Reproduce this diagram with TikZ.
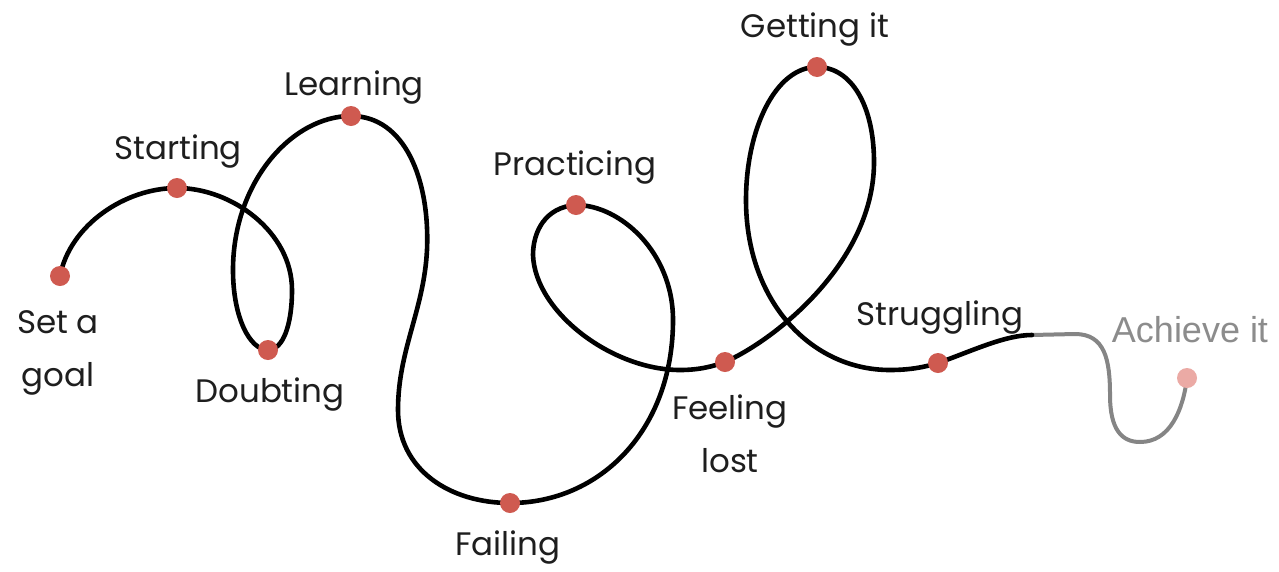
\documentclass[tikz,border=0pt]{standalone}
\usepackage{fontspec}
\setmainfont{Poppins}
\newfontfamily\achfont{Liberation Sans}
\definecolor{dotred}{HTML}{CF5A50}
\definecolor{dotpink}{HTML}{EBAAA5}
\definecolor{txt}{HTML}{1E1E1E}
\definecolor{grayline}{HTML}{858585}
\definecolor{graytxt}{HTML}{8C8C8C}
\begin{document}
\begin{tikzpicture}[x=1pt,y=-1pt,
  dotnode/.style={circle,fill=dotred,minimum size=20pt,inner sep=0pt},
  lbl/.style={text=txt,font=\fontsize{32.5}{53}\selectfont,align=center,inner sep=0pt},
  path line/.style={line width=4.6pt,black,line cap=round},
  tail line/.style={line width=4pt,grayline,line cap=round}]
\useasboundingbox (0,0) rectangle (1279,571);
\fill[white] (0,0) rectangle (1279,571);
% key points
\coordinate (goal) at (60,276);
\coordinate (start) at (177,188);
\coordinate (doubt) at (268,350);
\coordinate (learn) at (351,116);
\coordinate (fail) at (510,503);
\coordinate (pract) at (576,205);
\coordinate (lost) at (725,362);
\coordinate (get) at (817,67);
\coordinate (strug) at (938,363);
\coordinate (blackend) at (1032,335);
\coordinate (ach) at (1187,378);
% grey tail
\draw[tail line] (blackend) -- (1075,334) .. controls (1105,334) and (1110,360) .. (1110,395)
  .. controls (1110,430) and (1122,442) .. (1140,442)
  .. controls (1170,442) and (1183,410) .. (ach);
% main curve
\draw[path line] (goal) .. controls (70,225) and (125,188) .. (start)
  .. controls (232,188) and (292,232) .. (292,290)
  .. controls (292,325) and (283,350) .. (doubt)
  .. controls (250,350) and (233,318) .. (233,270)
  .. controls (233,182) and (292,116) .. (learn)
  .. controls (405,116) and (430,180) .. (427,250)
  .. controls (424,310) and (398,350) .. (398,410)
  .. controls (398,470) and (450,503) .. (fail)
  .. controls (600,503) and (673,430) .. (673,320)
  .. controls (673,252) and (620,205) .. (pract)
  .. controls (545,207) and (533,232) .. (533,255)
  .. controls (535,312) and (612,370) .. (680,370)
  .. controls (700,370) and (714,366) .. (lost)
  .. controls (775,340) and (874,262) .. (874,162)
  .. controls (874,105) and (851,67) .. (get)
  .. controls (775,67) and (746,130) .. (746,200)
  .. controls (746,300) and (810,370) .. (890,370)
  .. controls (910,370) and (925,367) .. (strug)
  .. controls (972,351) and (1005,335) .. (blackend);
% dots
\node[dotnode] (dgoal) at (goal) {};
\node[dotnode] (dstart) at (start) {};
\node[dotnode] (ddoubt) at (doubt) {};
\node[dotnode] (dlearn) at (learn) {};
\node[dotnode] (dfail) at (fail) {};
\node[dotnode] (dpract) at (pract) {};
\node[dotnode] (dlost) at (lost) {};
\node[dotnode] (dget) at (get) {};
\node[dotnode] (dstrug) at (strug) {};
\node[dotnode,fill=dotpink] (dach) at (ach) {};
% labels
\node[lbl] (lgoal) at (58,353) {Set a\\goal};
\node[lbl] (lstart) at (178,152) {Starting};
\node[lbl] (ldoubt) at (270,395) {Doubting};
\node[lbl] (llearn) at (354,88) {Learning};
\node[lbl] (lfail) at (508,548) {Failing};
\node[lbl] (lpract) at (575,168) {Practicing};
\node[lbl] (llost) at (730,434) {Feeling\\lost};
\node[lbl] (lget) at (815,30) {Getting it};
\node[lbl] (lstrug) at (940,318) {Struggling};
\node[lbl,text=graytxt,font=\achfont\fontsize{36}{40}\selectfont] (lach) at (1190,330) {Achieve it};
\end{tikzpicture}
\end{document}
